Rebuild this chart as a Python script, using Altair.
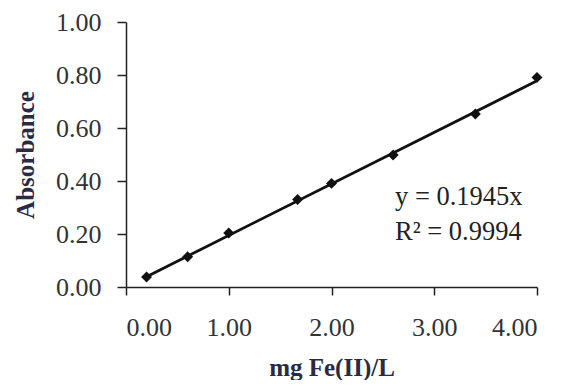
import altair as alt
import pandas as pd

conc = [0.2, 0.6, 1.0, 1.67, 2.0, 2.6, 3.4, 4.0]
absorb = [0.038, 0.114, 0.204, 0.33, 0.391, 0.498, 0.653, 0.791]
slope = 0.1945
fit_x = [0.2, 4.0]
eq_lines = ["y = 0.1945x", "R² = 0.9994"]

df = pd.DataFrame({"x": conc, "y": absorb})
fit = pd.DataFrame({"x": fit_x, "y": [slope * v for v in fit_x]})
ann = pd.DataFrame({"t": eq_lines, "py": [183, 218]})

FONT = "Liberation Serif"
xs = alt.Scale(domain=[0, 4], nice=False)
ys = alt.Scale(domain=[0, 1], nice=False)

xax = alt.Axis(values=[0, 1, 2, 3, 4], format=".2f", grid=False, tickSize=8,
               labelPadding=19, title="mg Fe(II)/L", titlePadding=15)
yax = alt.Axis(values=[0, 0.2, 0.4, 0.6, 0.8, 1.0], format=".2f", grid=False, tickSize=9,
               labelPadding=16, title="Absorbance", titlePadding=17)

line = alt.Chart(fit).mark_line(color="#111111", strokeWidth=2.8).encode(
    x=alt.X("x:Q", scale=xs, axis=xax),
    y=alt.Y("y:Q", scale=ys, axis=yax),
)
pts = alt.Chart(df).mark_point(shape="diamond", filled=True, color="#111111", size=120, opacity=1).encode(
    x=alt.X("x:Q", scale=xs),
    y=alt.Y("y:Q", scale=ys),
)
txt = alt.Chart(ann).mark_text(align="left", baseline="alphabetic", font=FONT, fontSize=26.5,
                               color="#222222").encode(
    x=alt.value(269),
    y=alt.Y("py:Q", scale=None),
    text="t:N",
)

chart = (line + pts + txt).properties(
    width=411, height=265,
    autosize=alt.AutoSizeParams(type="none"),
    padding={"left": 118, "top": 14, "right": 19, "bottom": 93},
).configure_view(stroke=None).configure_axis(
    labelFont=FONT, labelFontSize=26, labelColor="#333333",
    titleFont=FONT, titleFontSize=25, titleFontWeight="bold", titleColor="#2a2a44",
    domainColor="#222222", tickColor="#222222", domainWidth=1.5, tickWidth=1.5,
)

chart.save("out.html", embed_options={"renderer": "svg", "actions": False})
